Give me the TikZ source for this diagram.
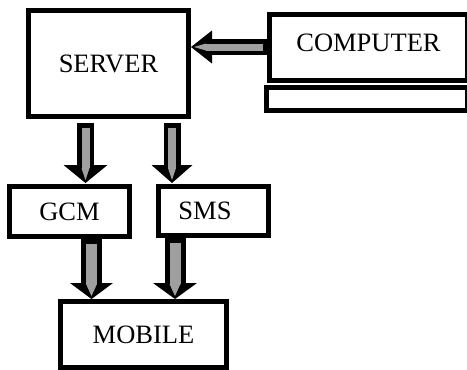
\documentclass[tikz,border=0pt]{standalone}
\usepackage{fontspec}
\setmainfont{Liberation Serif}
\usetikzlibrary{arrows.meta}
\tikzset{
  >=Triangle,
  x=1pt,y=1pt,
  % outer width, inner width, head width, head length
  fatarrow/.style n args={4}{
    preaction={draw=black,line width=#1,shorten <=0pt,shorten >=0pt,
      -{Triangle[length=#4,width=#3,line width=0pt]}},
    draw=gray!75,line width=#2,shorten <=4.5pt,shorten >=3pt,
    -{Triangle[length=12pt,width=#2,line width=0pt]}},
}
\tikzstyle{box}=[draw,line width=5pt,inner sep=0pt,outer sep=0pt,font=\fontsize{26.5}{30}\selectfont]

\begin{document}
\begin{tikzpicture}
        \useasboundingbox (0,0) rectangle (467,-370);
        \begin{scope}
        \clip (0,0) rectangle (467,-370);
        \node[box,minimum width=160,minimum height=106] (server) at (108.5,-63.5) {SERVER};
        \node[box,minimum width=198,minimum height=66,text depth=9pt] (computer) at (368.5,-47.5) {COMPUTER};
        \node[box,minimum width=201,minimum height=23] (keyboard) at (367,-99) {};
        \node[box,minimum width=120,minimum height=50] (gcm) at (69.5,-211.5) {GCM};
        \node[box,minimum width=110,minimum height=49] (sms) at (213.5,-211) {SMS\hspace*{17pt}};
        \node[box,minimum width=166,minimum height=66] (mobile) at (143.5,-334.5) {MOBILE};
        \end{scope}
        \draw[fatarrow={16pt}{7pt}{33pt}{21pt}] ([xshift=-2.5,yshift=0.5]computer.west) -- ([xshift=2.5,yshift=16.5]server.east);
        \draw[fatarrow={17pt}{8pt}{44pt}{18pt}] ([xshift=-23,yshift=-6.5]server.south) -- ([xshift=16,yshift=3.5]gcm.north);
        \draw[fatarrow={17pt}{8pt}{41pt}{18pt}] ([xshift=63.5,yshift=-6.5]server.south) -- ([xshift=-41.5,yshift=3.5]sms.north);
        \draw[fatarrow={21pt}{11pt}{43pt}{16pt}] ([xshift=22,yshift=-2.5]gcm.south) -- ([xshift=-52,yshift=2.5]mobile.north);
        \draw[fatarrow={21pt}{11pt}{44pt}{16pt}] ([xshift=-38.5,yshift=-2.5]sms.south) -- ([xshift=31.5,yshift=2.5]mobile.north);
      \end{tikzpicture}
\end{document}
